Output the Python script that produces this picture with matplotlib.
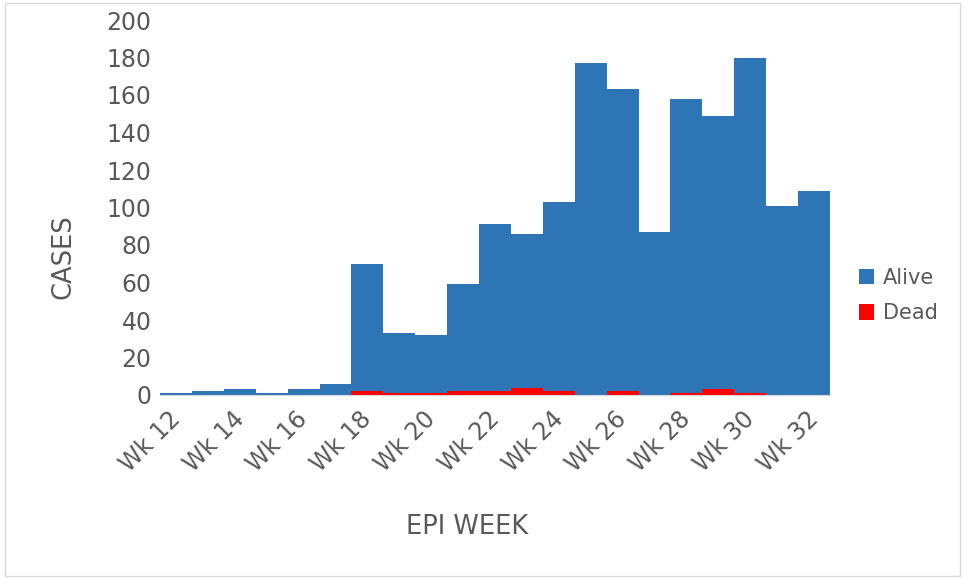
import matplotlib
matplotlib.use("Agg")
import matplotlib.pyplot as plt
import matplotlib.transforms as mtransforms
import numpy as np

weeks = [f"Wk {w}" for w in range(12, 33)]
total = [1, 2, 3, 1, 3, 6, 70, 33, 32, 59, 91, 86, 103, 177, 163, 87, 158, 149, 180, 101, 109]
dead = [0, 0, 0, 0, 0, 0, 2, 1, 1, 2, 2, 4, 2, 0, 2, 0, 1, 3, 1, 0, 0]
alive = [t - d for t, d in zip(total, dead)]

fig = plt.figure(figsize=(9.65, 5.79), dpi=100)
ax = fig.add_axes([160/965, 1 - 395/579, 670/965, 375/579])
x = np.arange(len(weeks))
ax.bar(x, dead, width=1.0, color="#FF0000", label="Dead")
ax.bar(x, alive, bottom=dead, width=1.0, color="#2E75B6", label="Alive")
ax.set_xlim(-0.5, len(weeks) - 0.5)
ax.set_ylim(0, 200)
ax.set_yticks(range(0, 201, 20))
ax.set_xticks(x[::2])
ax.set_xticklabels(weeks[::2], rotation=45, ha="right", rotation_mode="anchor")
for s in ["top", "right", "left"]:
    ax.spines[s].set_visible(False)
ax.spines["bottom"].set_color("#D9D9D9")
ax.tick_params(axis="both", length=0, labelsize=17, colors="#595959")
ax.tick_params(axis="y", pad=6)
ax.tick_params(axis="x", pad=5)
offset = mtransforms.ScaledTranslation(-8/100, -5/100, fig.dpi_scale_trans)
for lab in ax.get_xticklabels():
    lab.set_transform(lab.get_transform() + offset)
fig.text(63/965, 1 - 257/579, "CASES", rotation=90, ha="center", va="center", fontsize=18.5, color="#595959")
fig.text(467/965, 1 - 527/579, "EPI WEEK", ha="center", va="center", fontsize=18.5, color="#595959")
h, l = ax.get_legend_handles_labels()
fig.legend(h[::-1], l[::-1], loc="center left", bbox_to_anchor=(840/965, 1 - 295.5/579), frameon=False,
           fontsize=15, labelcolor="#595959", handlelength=0.75, handleheight=0.75, handletextpad=0.4, labelspacing=0.75)
border = plt.Rectangle((0.005, 0.005), 0.99, 0.99, transform=fig.transFigure, fill=False, edgecolor="#D9D9D9", lw=1)
fig.add_artist(border)
fig.savefig("out.png", dpi=100)
